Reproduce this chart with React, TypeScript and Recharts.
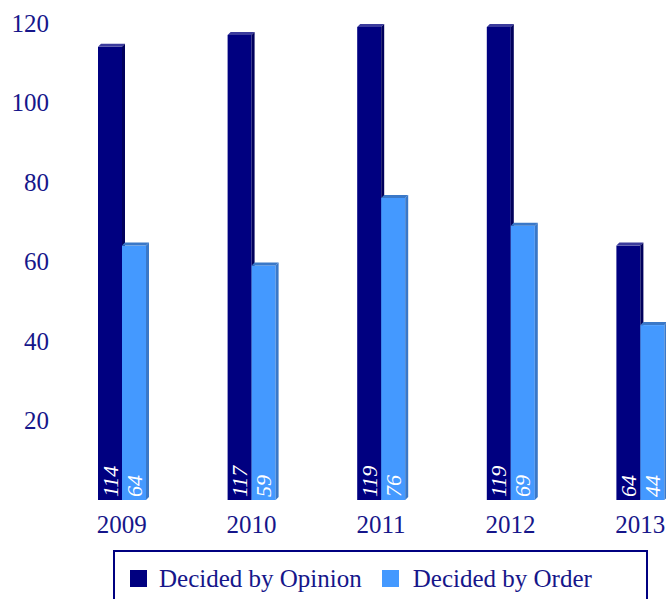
import { Bar, BarChart, LabelList, Legend, XAxis, YAxis } from 'recharts';

const years = ['2009', '2010', '2011', '2012', '2013'];
const byOpinion = [114, 117, 119, 119, 64];
const byOrder = [64, 59, 76, 69, 44];
const yTicks = [20, 40, 60, 80, 100, 120];

const data = years.map((year, i) => ({ year, opinion: byOpinion[i], order: byOrder[i] }));

const FONT = '"Liberation Serif", "Times New Roman", serif';
const TEXT = '#16168a';
const DEPTH = 3;

function shape3d(front: string, top: string, side: string) {
  return (props: any) => {
    const { x, y, width: w, height: h } = props;
    if (!h || h <= 0) return <g />;
    const d = DEPTH;
    return (
      <g>
        <rect x={x} y={y} width={w} height={h} fill={front} />
        <polygon points={`${x},${y} ${x + d},${y - d} ${x + w + d},${y - d} ${x + w},${y}`} fill={top} />
        <polygon points={`${x + w},${y} ${x + w + d},${y - d} ${x + w + d},${y + h - d} ${x + w},${y + h}`} fill={side} />
      </g>
    );
  };
}

const insideLabel = (props: any) => {
  const { x, y, width, height, value } = props;
  const cx = x + width / 2;
  const by = y + height - 3;
  return (
    <text
      x={cx}
      y={by}
      transform={`rotate(-90 ${cx} ${by})`}
      fill="#ffffff"
      fontStyle="italic"
      fontSize={22}
      fontFamily={FONT}
      dominantBaseline="central"
      textAnchor="start"
    >
      {value}
    </text>
  );
};

const LegendBox = () => (
  <div
    style={{
      boxSizing: 'border-box',
      width: 535,
      height: 62,
      border: '2px solid #000080',
      display: 'flex',
      alignItems: 'flex-start',
      paddingTop: 13,
      paddingLeft: 15,
      fontFamily: FONT,
      fontSize: 25,
      color: TEXT,
    }}
  >
    <span style={{ width: 17, height: 17, background: '#000080', marginTop: 5, marginRight: 12 }} />
    <span style={{ marginRight: 20 }}>Decided by Opinion</span>
    <span style={{ width: 17, height: 17, background: '#4499ff', marginTop: 5, marginRight: 14 }} />
    <span>Decided by Order</span>
  </div>
);

export default function App() {
  return (
    <div style={{ position: 'absolute', left: 0, top: 0, width: 666, height: 599, overflow: 'hidden', background: '#fff' }}>
      <BarChart
        width={705}
        height={612}
        data={data}
        margin={{ top: 23, right: 0, left: 0, bottom: 0 }}
        barGap={0}
        barSize={24}
      >
        <XAxis
          dataKey="year"
          axisLine={false}
          tickLine={false}
          tickMargin={9}
          height={50}
          tick={{ fill: TEXT, fontSize: 25, fontFamily: FONT }}
        />
        <YAxis
          domain={[0, 120]}
          ticks={yTicks}
          axisLine={false}
          tickLine={false}
          width={57}
          tick={{ fill: TEXT, fontSize: 25, fontFamily: FONT }}
        />
        <Legend
          verticalAlign="bottom"
          content={() => <LegendBox />}
          wrapperStyle={{ left: 113, width: 535, height: 62 }}
        />
        <Bar dataKey="opinion" name="Decided by Opinion" fill="#000080" isAnimationActive={false}
          shape={shape3d('#000080', '#3b3b9c', '#00005c')}>
          <LabelList dataKey="opinion" content={insideLabel} />
        </Bar>
        <Bar dataKey="order" name="Decided by Order" fill="#4499ff" isAnimationActive={false}
          shape={shape3d('#4499ff', '#3a78c8', '#3a78c8')}>
          <LabelList dataKey="order" content={insideLabel} />
        </Bar>
      </BarChart>
    </div>
  );
}
